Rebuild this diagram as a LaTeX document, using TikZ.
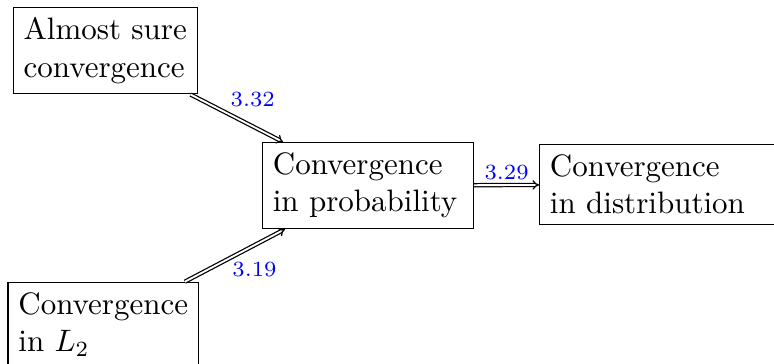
\documentclass[tikz,border=0pt]{standalone}
\usepackage{amsmath}
\usepackage{amssymb}
\usetikzlibrary{arrows.meta}

\begin{document}
\begin{tikzpicture}[x=1pt, y=1pt,
        conv/.style={draw, align=left, anchor=north west},
        implies/.style={double, -{Implies[scale=1.4]}},
        thmref/.style={blue, font=\scriptsize}]
                \useasboundingbox (0, 0) rectangle (249.7, 117.4);

                \node[conv] (as) at (4.1, 115.2) {Almost sure\\convergence};
                \node[conv, text width=61.4pt] (prob) at (84.5, 71.6) {Convergence\\in probability};
                \node[conv, text width=69.5pt] (dist) at (173.9, 71.0) {Convergence\\in distribution};
                \node[conv] (ltwo) at (2.4, 26.5) {Convergence\\in $L_2$};

                \draw[implies] (as) -- (prob) node[pos=0.5, above right, thmref, xshift=-5.5pt] {3.32};
                \draw[implies] (ltwo) -- (prob) node[pos=0.5, below right, thmref, xshift=-4.3pt, yshift=1.5pt] {3.19};
                \draw[implies] (prob) -- (dist) node[midway, above, thmref, yshift=-2pt] {3.29};
            \end{tikzpicture}
\end{document}
